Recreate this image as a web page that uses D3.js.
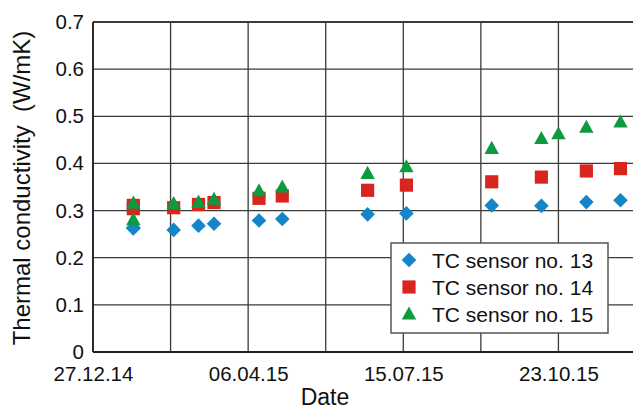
<!DOCTYPE html>
<html>
<head>
<meta charset="utf-8">
<script src="https://cdn.jsdelivr.net/npm/d3@7"></script>
<style>
  html, body { margin: 0; padding: 0; background: #fff; }
  svg { display: block; font-family: "Liberation Sans", Arial, sans-serif; }
</style>
</head>
<body>
<svg id="chart" width="633" height="410"></svg>
<script>
// Measurement dates (dd.mm.yy) and thermal conductivity readings in W/mK
const dates = ["22.01.15", "22.01.15", "17.02.15", "05.03.15", "15.03.15", "13.04.15", "28.04.15",
               "22.06.15", "17.07.15", "10.09.15", "12.10.15", "10.11.15", "02.12.15"];
const sensor13 = [0.262, 0.264, 0.259, 0.268, 0.272, 0.279, 0.282, 0.292, 0.294, 0.311, 0.310, 0.318, 0.322];
const sensor14 = [0.311, 0.304, 0.306, 0.313, 0.317, 0.326, 0.331, 0.343, 0.354, 0.361, 0.371, 0.384, 0.389];
// Sensor 15 has one extra reading on 23.10.15
const dates15 = ["22.01.15", "22.01.15", "17.02.15", "05.03.15", "15.03.15", "13.04.15", "28.04.15",
                 "22.06.15", "17.07.15", "10.09.15", "12.10.15", "23.10.15", "10.11.15", "02.12.15"];
const sensor15 = [0.316, 0.281, 0.315, 0.318, 0.324, 0.342, 0.350, 0.379, 0.393, 0.432, 0.453, 0.463, 0.477, 0.488];

const seriesNames = ["TC sensor no. 13", "TC sensor no. 14", "TC sensor no. 15"];
const xTickLabels = ["27.12.14", "06.04.15", "15.07.15", "23.10.15"];
const yTickValues = [0, 0.1, 0.2, 0.3, 0.4, 0.5, 0.6, 0.7];
const xDomain = ["27.12.14", "12.12.15"];

const parse = d3.timeParse("%d.%m.%y");
const fmt = d3.timeFormat("%d.%m.%y");

const svg = d3.select("#chart");
const margin = { left: 93, top: 22, bottom: 352, right: 636 };

const x = d3.scaleTime().domain(xDomain.map(parse)).range([margin.left, margin.right]);
const y = d3.scaleLinear().domain([0, 0.7]).range([margin.bottom, margin.top]);

const gridColor = "#3a3a3a";

// Vertical grid every 50 days
const gridDates = d3.timeDay.range(parse(xDomain[0]), d3.timeDay.offset(parse(xDomain[1]), 1), 50);
svg.append("g")
  .selectAll("line")
  .data(gridDates)
  .join("line")
  .attr("x1", d => x(d)).attr("x2", d => x(d))
  .attr("y1", y(0)).attr("y2", y(0.7))
  .attr("stroke", gridColor).attr("stroke-width", 1.3);

// Horizontal grid
svg.append("g")
  .selectAll("line")
  .data(yTickValues)
  .join("line")
  .attr("x1", x.range()[0]).attr("x2", x.range()[1])
  .attr("y1", d => y(d)).attr("y2", d => y(d))
  .attr("stroke", gridColor)
  .attr("stroke-width", d => d === 0.7 ? 2 : 1.3);

// Axes via d3 axis generators (lines and labels styled below)
const xAxis = d3.axisBottom(x)
  .tickValues(xTickLabels.map(parse))
  .tickFormat(fmt)
  .tickSize(0)
  .tickPadding(14);
const gx = svg.append("g").attr("transform", `translate(0,${y(0)})`).call(xAxis);
gx.select(".domain").remove();
gx.selectAll("text")
  .attr("font-size", 20.5)
  .attr("font-family", "Liberation Sans, Arial, sans-serif")
  .attr("fill", "#111");

const yAxis = d3.axisLeft(y)
  .tickValues(yTickValues)
  .tickFormat(d => d === 0 ? "0" : d3.format(".1f")(d))
  .tickSize(0)
  .tickPadding(9);
const gy = svg.append("g").attr("transform", `translate(${x.range()[0]},0)`).call(yAxis);
gy.select(".domain").remove();
gy.selectAll("text")
  .attr("font-size", 20.5)
  .attr("font-family", "Liberation Sans, Arial, sans-serif")
  .attr("fill", "#111");

// Axis frame lines
svg.append("line")
  .attr("x1", x.range()[0]).attr("x2", x.range()[0])
  .attr("y1", y(0)).attr("y2", y(0.7))
  .attr("stroke", "#222").attr("stroke-width", 1.8);
svg.append("line")
  .attr("x1", x.range()[0]).attr("x2", x.range()[1])
  .attr("y1", y(0)).attr("y2", y(0))
  .attr("stroke", "#222").attr("stroke-width", 1.8);

// Axis titles
svg.append("text")
  .attr("transform", `translate(30,${(y(0) + y(0.7)) / 2 + 1}) rotate(-90)`)
  .attr("text-anchor", "middle")
  .attr("font-size", 24)
  .attr("fill", "#111")
  .attr("xml:space", "preserve")
  .style("white-space", "pre")
  .text("Thermal conductivity  (W/mK)");

svg.append("text")
  .attr("x", 325).attr("y", 405)
  .attr("text-anchor", "middle")
  .attr("font-size", 23)
  .attr("fill", "#111")
  .text("Date");

// Marker shapes (diamond, square, triangle) centred on the origin
const colors = ["#1485c8", "#d8261f", "#0e9a3f"];
const markerPaths = [
  "M0,-7.3L7.3,0L0,7.3L-7.3,0Z",
  "M-6.6,-6.6H6.6V6.6H-6.6Z",
  "M0,-7.5L7.2,5.6H-7.2Z"
];

const series = [
  dates.map((d, j) => ({ date: parse(d), value: sensor13[j] })),
  dates.map((d, j) => ({ date: parse(d), value: sensor14[j] })),
  dates15.map((d, j) => ({ date: parse(d), value: sensor15[j] }))
];

series.forEach((pts, i) => {
  svg.append("g")
    .selectAll("path")
    .data(pts)
    .join("path")
    .attr("d", markerPaths[i])
    .attr("transform", d => `translate(${x(d.date)},${y(d.value)})`)
    .attr("fill", colors[i]);
});

// Legend
const legend = svg.append("g").attr("transform", "translate(391,243)");
legend.append("rect")
  .attr("width", 217).attr("height", 90)
  .attr("fill", "#fff")
  .attr("stroke", "#555").attr("stroke-width", 1.5);

seriesNames.forEach((name, i) => {
  const row = legend.append("g").attr("transform", `translate(0,${17 + i * 27})`);
  row.append("path")
    .attr("d", markerPaths[i])
    .attr("transform", `translate(18,0)`)
    .attr("fill", colors[i]);
  row.append("text")
    .attr("x", 41).attr("y", 0)
    .attr("dy", "0.36em")
    .attr("font-size", 21)
    .attr("fill", "#111")
    .text(name);
});
</script>
</body>
</html>
